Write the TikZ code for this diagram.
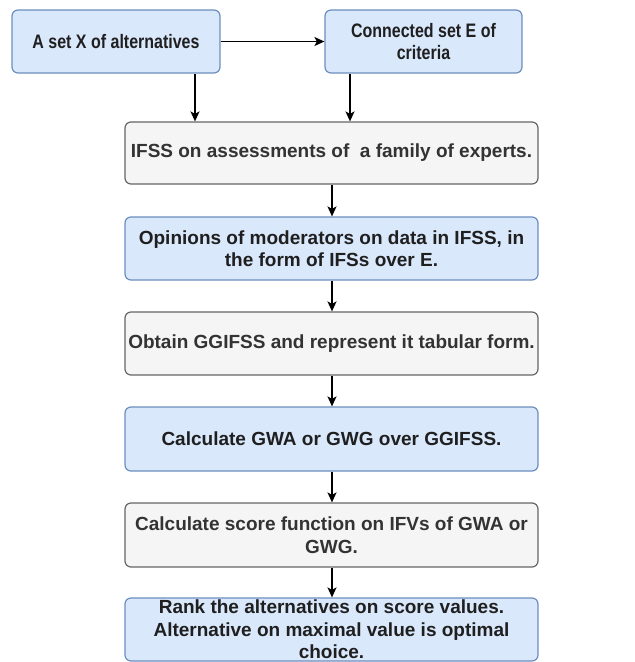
\documentclass[tikz,border=0pt]{standalone}
\usepackage{fontspec}
\setmainfont{Liberation Sans}
\newfontfamily\narrowfont{Liberation Sans}[FakeStretch=0.82]
\usetikzlibrary{arrows.meta}
\definecolor{bluefill}{HTML}{DAE8FC}
\definecolor{blueline}{HTML}{6C8EBF}
\definecolor{grayfill}{HTML}{F5F5F5}
\definecolor{grayline}{HTML}{666666}
\definecolor{graytext}{HTML}{333333}
\tikzset{
  box/.style={rounded corners=6pt, line width=1.2pt, align=center, inner sep=0pt,
    font=\fontsize{19}{22.5}\selectfont\bfseries},
  small/.style={font=\fontsize{19.5}{22}\selectfont\narrowfont\bfseries},
  bluebox/.style={box, fill=bluefill, draw=blueline, text=black!88},
  graybox/.style={box, fill=grayfill, draw=grayline, text=graytext},
  arr/.style={line width=1.4pt, -{Stealth[length=10pt,width=9pt,inset=2.5pt]}},
}
\begin{document}
\begin{tikzpicture}[x=1pt,y=-1pt]
\useasboundingbox[fill=white] (0,0) rectangle (635,662);
\node[bluebox, small, minimum width=208, minimum height=63] (b1) at (116,41.5) {A set X of alternatives};
\node[bluebox, small, minimum width=197, minimum height=63] (b2) at (423.5,41.5) {Connected set E of\\criteria};
\node[graybox, minimum width=413, minimum height=62] (b3) at (331.5,153) {IFSS on assessments of\ \ a family of experts.};
\node[bluebox, minimum width=413, minimum height=63] (b4) at (331.5,248.5) {Opinions of moderators on data in IFSS, in\\the form of IFSs over E.};
\node[graybox, minimum width=413, minimum height=63] (b5) at (331.5,343.5) {Obtain GGIFSS and represent it tabular form.};
\node[bluebox, minimum width=413, minimum height=64] (b6) at (331.5,439) {Calculate GWA or GWG over GGIFSS.};
\node[graybox, minimum width=413, minimum height=64] (b7) at (331.5,535) {Calculate score function on IFVs of GWA or\\GWG.};
\node[bluebox, minimum width=413, minimum height=63] (b8) at (331.5,629.5) {Rank the alternatives on score values.\\Alternative on maximal value is optimal\\choice.};
\draw[arr] (b1.east) -- (b2.west);
\draw[arr] (b1.south -| 195,0) -- (b3.north -| 195,0);
\draw[arr] (b2.south -| 350,0) -- (b3.north -| 350,0);
\draw[arr] (b3.south -| 332,0) -- (b4.north -| 332,0);
\draw[arr] (b4.south -| 332,0) -- (b5.north -| 332,0);
\draw[arr] (b5.south -| 332,0) -- (b6.north -| 332,0);
\draw[arr] (b6.south -| 332,0) -- (b7.north -| 332,0);
\draw[arr] (b7.south -| 332,0) -- (b8.north -| 332,0);
\end{tikzpicture}
\end{document}
